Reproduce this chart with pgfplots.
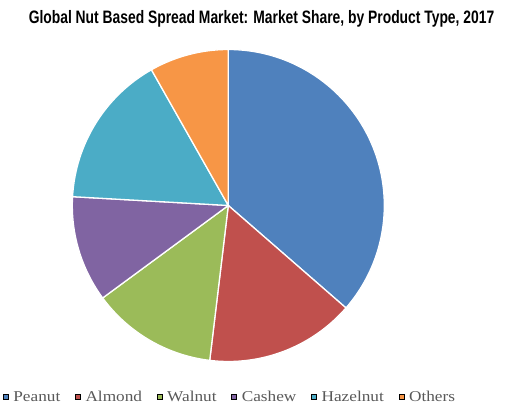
\documentclass[border=0pt]{standalone}
\usepackage{pgfplots}
\usepackage{pgfplotstable}
\pgfplotsset{compat=1.18}
\usepackage{fontspec}
\setmainfont{Liberation Serif}
\newfontfamily\legfont[FakeStretch=1.15]{Liberation Serif}
\newfontfamily\titlefont[FakeStretch=0.77]{Liberation Sans}
\definecolor{col0}{HTML}{4F81BD}
\definecolor{col1}{HTML}{C0504D}
\definecolor{col2}{HTML}{9BBB59}
\definecolor{col3}{HTML}{8064A2}
\definecolor{col4}{HTML}{4BACC6}
\definecolor{col5}{HTML}{F79646}
\definecolor{legtext}{HTML}{595959}
\pgfplotstableread{
name value
Peanut 36.4
Almond 15.5
Walnut 13.0
Cashew 11.0
Hazelnut 15.9
Others 8.2
}\datatable
\begin{document}
\begin{tikzpicture}
\path[use as bounding box] (0,0) rectangle (529bp,411bp);
\begin{axis}[
  at={(0,0)}, anchor=south west,
  width=529bp, height=411bp, scale only axis,
  xmin=0, xmax=529, ymin=0, ymax=411,
  hide axis, clip=false,
  legend columns=-1,
  legend image code/.code={\fill[#1] (0bp,-2.5bp) rectangle (5bp,2.5bp);},
  legend style={at={(axis cs:3,14)}, anchor=west, draw=none, fill=none,
    inner sep=0pt, outer sep=0pt,
    font=\legfont\fontsize{15bp}{18bp}\selectfont, text=legtext,
    /tikz/every odd column/.append style={column sep=3bp},
    /tikz/every even column/.append style={column sep=12.8bp}},
]
\pgfplotstablegetrowsof{\datatable}
\pgfmathtruncatemacro\nrows{\pgfplotsretval-1}
\def\cum{0}
\pgfplotsforeachungrouped \i in {0,...,\nrows}{%
  \pgfplotstablegetelem{\i}{value}\of\datatable
  \let\v\pgfplotsretval
  \pgfmathsetmacro\a{90-3.6*\cum}%
  \pgfmathsetmacro\b{90-3.6*(\cum+\v)}%
  \pgfmathsetmacro\cum{\cum+\v}%
  \edef\temp{\noexpand\fill[col\i, draw=white, line width=1.3bp, line join=round]
    (axis cs:228.3,205.5) -- ([shift={(\a:156bp)}]axis cs:228.3,205.5)
    arc[start angle=\a, end angle=\b, radius=156bp] -- cycle;}%
  \temp
}
\pgfplotsforeachungrouped \i in {0,...,\nrows}{%
  \pgfplotstablegetelem{\i}{name}\of\datatable
  \edef\temp{\noexpand\addlegendimage{fill=col\i}\noexpand\addlegendentry{\pgfplotsretval}}%
  \temp
}
\node[font=\titlefont\bfseries\fontsize{18bp}{21bp}\selectfont, anchor=base, inner sep=0pt]
  at (axis cs:261.5,387.5) {Global Nut Based Spread Market: Market Share, by Product Type, 2017};
\end{axis}
\end{tikzpicture}
\end{document}
